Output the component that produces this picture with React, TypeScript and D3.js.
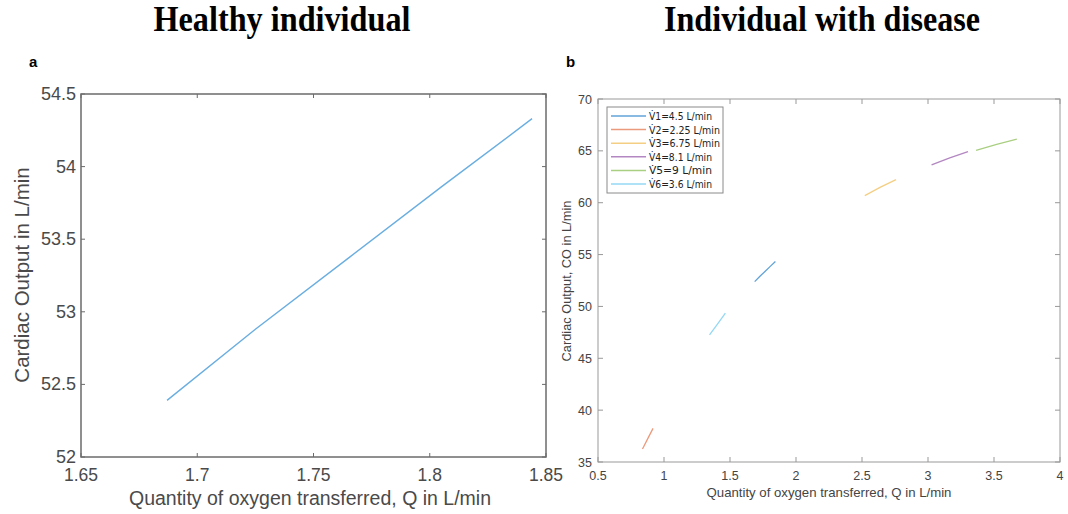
import React from "react";
import * as d3 from "d3";

// Healthy individual (panel a)
const healthyQ = [1.687, 1.725, 1.765, 1.805, 1.844];
const healthyCO = [52.39, 52.88, 53.37, 53.86, 54.33];

// Individual with disease (panel b)
const seriesNames = ["V\u03071=4.5 L/min", "V\u03072=2.25 L/min", "V\u03073=6.75 L/min", "V\u03074=8.1 L/min", "V\u03075=9 L/min", "V\u03076=3.6 L/min"];
const seriesColors = ["#62a3d8", "#ec9a7c", "#f4cf83", "#b387c1", "#a9cf82", "#94d8f4"];
const v1Q = [1.687, 1.725, 1.765, 1.805, 1.844];
const v1CO = [52.39, 52.88, 53.37, 53.86, 54.33];
const v2Q = [0.837, 0.877, 0.917];
const v2CO = [36.25, 37.25, 38.24];
const v3Q = [2.521, 2.64, 2.758];
const v3CO = [60.68, 61.5, 62.23];
const v4Q = [3.027, 3.165, 3.303];
const v4CO = [63.64, 64.33, 64.92];
const v5Q = [3.364, 3.52, 3.673];
const v5CO = [65.05, 65.62, 66.12];
const v6Q = [1.345, 1.405, 1.465];
const v6CO = [47.25, 48.3, 49.35];
const diseaseQ = [v1Q, v2Q, v3Q, v4Q, v5Q, v6Q];
const diseaseCO = [v1CO, v2CO, v3CO, v4CO, v5CO, v6CO];

const aXTicks = [1.65, 1.7, 1.75, 1.8, 1.85];
const aYTicks = [52, 52.5, 53, 53.5, 54, 54.5];
const bXTicks = [0.5, 1, 1.5, 2, 2.5, 3, 3.5, 4];
const bYTicks = [35, 40, 45, 50, 55, 60, 65, 70];

const FONT = "'Liberation Sans', Arial, sans-serif";

export default function App() {
  // Panel a
  const ax = d3.scaleLinear().domain([1.65, 1.85]).range([81, 546]);
  const ay = d3.scaleLinear().domain([52, 54.5]).range([457, 94]);
  const aLine = d3
    .line<number>()
    .x((d, i) => ax(healthyQ[i]))
    .y((d) => ay(d));

  // Panel b
  const bx = d3.scaleLinear().domain([0.5, 4]).range([598, 1060]);
  const by = d3.scaleLinear().domain([35, 70]).range([462, 99]);

  const aTick = 4;
  const bTick = 5;
  const aCol = "#6b6b6b";
  const bCol = "#999999";
  const aText = "#4a4a4a";
  const bText = "#444444";

  const legX = 607;
  const legY = 107;
  const legW = 116;
  const legH = 86;
  const rowH = 13.6;

  return (
    <svg
      width={1068}
      height={514}
      style={{ position: "absolute", left: 0, top: 0, background: "#fff" }}
    >
      {/* titles */}
      <text
        x={282}
        y={31}
        textAnchor="middle"
        fontFamily="'Liberation Serif', 'Times New Roman', serif"
        fontWeight="bold"
        fontSize={35}
        textLength={257}
        lengthAdjust="spacingAndGlyphs"
        fill="#000"
      >
        Healthy individual
      </text>
      <text
        x={822}
        y={31}
        textAnchor="middle"
        fontFamily="'Liberation Serif', 'Times New Roman', serif"
        fontWeight="bold"
        fontSize={35}
        textLength={316}
        lengthAdjust="spacingAndGlyphs"
        fill="#000"
      >
        Individual with disease
      </text>
      <text x={29} y={67} fontFamily={FONT} fontWeight="bold" fontSize={15} fill="#000">
        a
      </text>
      <text x={566} y={67} fontFamily={FONT} fontWeight="bold" fontSize={15} fill="#000">
        b
      </text>

      {/* ===== Panel a ===== */}
      <g>
        {aXTicks.map((t) => (
          <g key={"ax" + t}>
            <line x1={ax(t)} x2={ax(t)} y1={457} y2={457 - aTick} stroke={aCol} strokeWidth={1} />
            <line x1={ax(t)} x2={ax(t)} y1={94} y2={94 + aTick} stroke={aCol} strokeWidth={1} />
            <text
              x={ax(t)}
              y={481}
              textAnchor="middle"
              fontFamily={FONT}
              fontSize={17.5}
              fill={aText}
            >
              {t.toString()}
            </text>
          </g>
        ))}
        {aYTicks.map((t) => (
          <g key={"ay" + t}>
            <line x1={81} x2={81 + aTick} y1={ay(t)} y2={ay(t)} stroke={aCol} strokeWidth={1} />
            <line x1={546} x2={546 - aTick} y1={ay(t)} y2={ay(t)} stroke={aCol} strokeWidth={1} />
            <text
              x={76}
              y={ay(t) + 6}
              textAnchor="end"
              fontFamily={FONT}
              fontSize={18}
              fill={aText}
            >
              {t.toString()}
            </text>
          </g>
        ))}
        <rect x={81} y={94} width={465} height={363} fill="none" stroke={aCol} strokeWidth={1.5} />
        <path d={aLine(healthyCO) || ""} fill="none" stroke="#6aaee0" strokeWidth={1.4} />
        <text
          x={310}
          y={505}
          textAnchor="middle"
          fontFamily={FONT}
          fontSize={19.5}
          fill={aText}
        >
          Quantity of oxygen transferred, Q in L/min
        </text>
        <text
          transform={`translate(29,${275}) rotate(-90)`}
          textAnchor="middle"
          fontFamily={FONT}
          fontSize={20.5}
          fill={aText}
        >
          Cardiac Output in L/min
        </text>
      </g>

      {/* ===== Panel b ===== */}
      <g>
        {bXTicks.map((t) => (
          <g key={"bx" + t}>
            <line x1={bx(t)} x2={bx(t)} y1={462} y2={462 - bTick} stroke={bCol} strokeWidth={1} />
            <line x1={bx(t)} x2={bx(t)} y1={99} y2={99 + bTick} stroke={bCol} strokeWidth={1} />
            <text
              x={bx(t)}
              y={480}
              textAnchor="middle"
              fontFamily={FONT}
              fontSize={12.5}
              fill={bText}
            >
              {t.toString()}
            </text>
          </g>
        ))}
        {bYTicks.map((t) => (
          <g key={"by" + t}>
            <line x1={598} x2={598 + bTick} y1={by(t)} y2={by(t)} stroke={bCol} strokeWidth={1} />
            <line x1={1060} x2={1060 - bTick} y1={by(t)} y2={by(t)} stroke={bCol} strokeWidth={1} />
            <text
              x={592}
              y={by(t) + 4.5}
              textAnchor="end"
              fontFamily={FONT}
              fontSize={12.5}
              fill={bText}
            >
              {t.toString()}
            </text>
          </g>
        ))}
        <rect x={598} y={99} width={462} height={363} fill="none" stroke={bCol} strokeWidth={1} />
        {diseaseCO.map((ys, s) => {
          const qs = diseaseQ[s];
          const ln = d3
            .line<number>()
            .x((d, i) => bx(qs[i]))
            .y((d) => by(d));
          return (
            <path key={"s" + s} d={ln(ys) || ""} fill="none" stroke={seriesColors[s]} strokeWidth={1.3} />
          );
        })}
        {/* legend */}
        <rect x={legX} y={legY} width={legW} height={legH} fill="#fff" stroke="#8a8a8a" strokeWidth={1} />
        {seriesNames.map((n, i) => (
          <g key={"l" + i}>
            <line
              x1={611}
              x2={646}
              y1={legY + 9 + i * rowH}
              y2={legY + 9 + i * rowH}
              stroke={seriesColors[i]}
              strokeWidth={1.5}
            />
            <text
              x={649}
              y={legY + 13 + i * rowH}
              fontFamily="'DejaVu Sans', 'Liberation Sans', sans-serif"
              fontSize={10}
              textLength={n.length > 13 ? 71 : 63}
              lengthAdjust="spacingAndGlyphs"
              fill="#222"
            >
              {n}
            </text>
          </g>
        ))}
        <text
          x={829}
          y={497}
          textAnchor="middle"
          fontFamily={FONT}
          fontSize={13.2}
          fill={bText}
        >
          Quantity of oxygen transferred, Q in L/min
        </text>
        <text
          transform={`translate(571,${281}) rotate(-90)`}
          textAnchor="middle"
          fontFamily={FONT}
          fontSize={12.8}
          fill={bText}
        >
          Cardiac Output, CO in L/min
        </text>
      </g>
    </svg>
  );
}
